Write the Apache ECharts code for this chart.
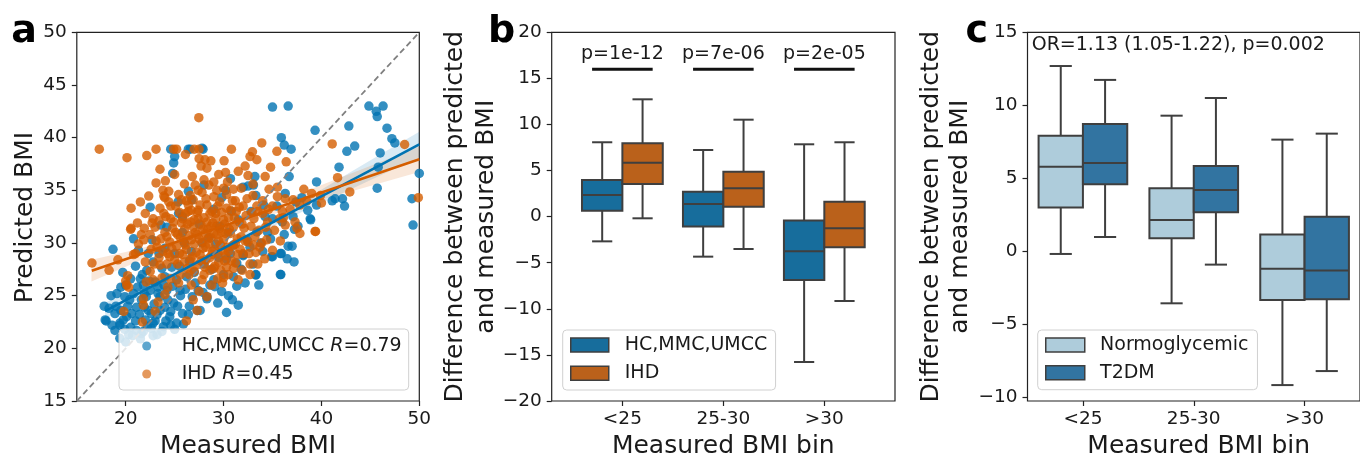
<!DOCTYPE html>
<html><head><meta charset="utf-8">
<script src="https://cdn.jsdelivr.net/npm/echarts@6/dist/echarts.min.js"></script>
<style>html,body{margin:0;padding:0;background:#fff}#c{width:1360px;height:457px}</style>
</head><body><div id="c"></div>
<script>
// ---------- Panel a data (Measured BMI, Predicted BMI) ----------
const hcPoints = [
[35.0,42.9],[36.6,43.0],[44.85,43.0],[45.6,42.5],[46.3,43.0],[45.7,42.0],[39.35,40.7],[42.8,41.1],[46.7,40.9],[47.2,39.9],[47.5,39.5],[35.9,40.0],[36.2,39.3],[36.9,38.9],[42.6,38.7],[43.4,39.2],[46.0,38.55],[41.8,37.2],[45.8,37.2],[50.0,36.6],[39.5,35.8],[36.7,36.3],[45.7,35.2],[49.25,34.2],[49.36,31.7],[41.1,34.0],[41.4,34.2],[42.15,34.2],[42.36,33.5],[38.9,32.2],[38.6,33.1],[37.1,32.5],[37.2,28.2],[35.8,27.0],[35.9,29.0],[36.6,29.7],[37.0,29.7],[35.0,28.7],[33.3,27.0],[31.5,24.1],[30.3,23.4],[31.35,25.9],[37.25,31.3],[33.4,31.05],[32.4,30.3],[32.0,28.8],[34.9,28.7],[35.8,29.0],
[30.7,36.1],[32.0,35.3],[32.5,35.4],[33.05,35.5],[33.2,36.3],[30.2,35.0],[29.8,34.3],[33.3,34.5],[34.1,33.6],[36.3,34.7],[37.4,33.9],[39.5,33.6],[38.0,34.3],[38.85,32.3],[35.45,33.5],[34.25,32.5],[35.0,32.3],[36.0,32.0],[37.6,31.6],[27.8,39.0],[24.6,38.9],[26.4,38.9],[26.6,38.9],[27.9,38.9],[24.9,37.6],[24.8,36.6],[25.0,38.2],[26.4,34.9],[25.35,33.9],[22.5,33.4],[25.4,32.8],[25.8,32.5],[23.6,31.7],[24.2,31.5],[26.75,34.1],[28.0,35.5],[29.0,33.2],[30.8,33.0],[31.5,32.2],[32.8,33.0],[30.5,31.0],[29.6,31.6],[28.5,30.5],[27.5,31.8],[31.0,29.8],[33.8,30.0],[34.5,31.0],[36.2,30.8],
[30.3,28.5],[31.35,28.1],[32.0,28.9],[32.7,29.6],[28.3,24.9],[29.1,25.85],[29.0,26.5],[27.3,23.6],[28.3,24.7],[27.4,25.5],[25.55,25.5],[25.2,26.5],[26.2,26.8],[27.6,23.6],[33.3,26.95],[35.85,27.0],[28.8,27.5],[30.0,27.0],[29.5,28.6],[28.0,28.0],[27.0,27.2],[26.5,28.3],[25.5,27.8],[31.0,26.8],[30.5,25.0],
[18.7,29.4],[19.7,27.2],[20.8,30.4],[21.3,29.3],[21.5,26.6],[22.15,27.4],[18.0,22.6],[18.9,23.3],[19.4,22.2],
[17.9,22.7],[18.9,21.7],[19.75,22.7],[20.6,23.3],[21.1,23.9],[21.6,24.6],[20.8,25.2],[19.9,24.9],[22.0,22.7],[22.8,22.4],[23.2,23.2],[24.0,23.9],[24.5,23.0],[23.5,24.9],[22.5,25.5],[21.8,26.0],[24.2,25.5],[24.9,24.3],[25.2,22.4],[23.85,22.05],[21.1,21.7],[19.4,22.4],[19.4,20.95],[21.8,21.6],[23.2,21.3],[24.6,22.2],[20.3,21.3],[22.3,23.6],[23.0,26.3],[24.0,26.8],[20.0,26.0],[21.0,27.8],[22.8,28.2],[23.7,27.6],[19.0,24.0],[20.5,22.0],[22.6,21.9],[25.8,23.3],[26.5,24.0],[25.0,29.0],[26.0,30.0],[24.0,29.5],[22.3,29.0],[21.9,25.2],[23.3,25.8],[20.2,24.0],
[18.3,23.8],[18.6,22.2],[19.1,25.2],[19.5,23.6],[19.9,21.8],[20.1,23.0],[20.4,24.6],[20.7,21.2],[21.0,22.6],[21.2,25.8],[21.4,23.2],[21.6,21.4],[21.9,23.9],[22.1,24.9],[22.2,22.1],[22.4,26.4],[22.6,23.3],[22.9,24.2],[23.0,22.6],[23.3,25.2],[23.5,23.6],[23.7,21.6],[23.9,26.0],[24.1,22.6],[24.3,24.6],[24.6,23.5],[24.8,25.9],[25.0,21.8],[25.3,24.0],[25.6,25.0],[25.9,22.3],[26.1,25.6],[26.4,23.2],[26.8,24.9],[27.1,26.2],[27.9,25.3],[28.6,26.0],[29.4,24.3],[29.8,25.4],[30.9,24.6],[32.2,26.2],[33.0,28.0],[34.0,29.2],[31.8,27.5],[30.7,29.0],[29.2,29.9],[27.8,30.0],[26.7,29.2],[25.8,31.0],[24.7,27.7],[23.4,29.0],[22.7,30.3],[21.7,27.0],[20.5,26.6],[19.5,25.8],[18.5,25.0],[17.8,24.0],[33.6,26.0],[34.8,30.4],[36.5,28.5],[20.0,20.6],[21.5,20.9],[22.8,21.2]
];
const ihdPoints = [
[17.3,38.9],[20.13,38.1],[22.15,38.3],[23.1,38.9],[24.9,38.9],[25.2,38.9],[27.0,38.9],[27.5,38.9],[26.1,38.4],[27.47,41.9],[27.5,38.0],[27.7,37.3],[28.1,37.9],[28.3,37.1],[28.7,37.8],[30.05,37.8],[30.8,38.9],[32.95,38.65],[32.7,38.2],[33.4,37.9],[33.9,39.5],[35.45,38.7],[36.4,37.7],[34.8,37.2],[41.1,39.4],[48.5,39.35],[41.65,36.2],[42.9,34.85],[49.9,34.3],[39.35,31.1],[40.0,33.8],[39.4,31.1],
[23.1,35.7],[24.05,35.9],[23.8,35.0],[24.4,34.9],[23.9,34.45],[22.35,34.45],[20.55,33.3],[20.55,31.4],[22.8,32.3],[22.7,31.9],[23.9,32.8],[24.1,32.5],[24.6,32.3],[25.7,34.1],[26.6,34.5],[26.9,34.1],[26.4,33.6],[26.7,33.1],[26.1,32.8],[25.7,31.9],[27.0,32.2],[27.4,35.0],[27.4,33.1],[34.25,36.3],[32.5,36.4],[28.0,36.0],[29.0,35.8],[31.0,35.1],[30.0,35.2],[34.65,35.1],[35.5,35.3],[38.2,35.1],[36.3,34.2],[37.1,34.1],[39.0,34.7],[39.9,34.5],[38.5,34.0],[37.8,33.6],
[35.8,30.2],[37.8,30.9],[37.5,31.4],[34.4,30.3],[33.9,30.0],[33.05,29.8],[35.0,29.3],[32.7,28.0],[31.9,27.4],[31.0,27.6],[30.3,27.7],[30.0,26.7],[29.4,26.6],[28.8,26.0],[28.6,27.4],[27.8,26.5],[36.3,31.7],[35.7,32.3],[34.5,32.0],[33.5,33.0],[32.0,33.5],[31.2,34.0],[33.0,34.5],[34.0,34.0],[36.0,33.0],[35.0,33.5],
[16.55,28.1],[18.3,27.4],[20.5,31.3],[20.2,26.9],[20.1,26.0],[20.3,25.8],[21.85,30.3],[21.6,30.8],[19.8,23.5],[20.0,26.4],[21.7,22.5],[21.8,24.7],[21.8,24.1],[23.0,23.5],[23.3,24.4],[24.0,25.1],[24.3,25.8],[26.2,22.6],[26.9,24.6],[27.3,23.6],[28.3,24.9],[19.2,28.4],[20.8,28.9],[21.3,29.9],[22.0,28.2],[22.5,27.3],[22.8,26.5],[23.5,27.9],
[23.2,29.6],[23.6,30.4],[24.0,31.0],[24.3,29.0],[24.5,30.1],[24.8,31.4],[25.0,28.4],[25.2,29.7],[25.3,30.8],[25.5,32.9],[25.8,28.9],[25.9,30.2],[26.0,31.3],[26.2,29.4],[26.3,27.6],[26.5,30.7],[26.6,32.0],[26.8,28.7],[27.0,29.9],[27.1,31.0],[27.2,27.9],[27.3,32.9],[27.5,30.4],[27.6,28.9],[27.7,31.7],[27.9,29.5],[28.0,32.4],[28.1,30.9],[28.2,28.4],[28.3,33.6],[28.4,31.3],[28.5,29.9],[28.6,32.8],[28.7,30.5],[28.8,28.9],[28.9,31.9],[29.0,34.4],[29.1,29.4],[29.2,32.3],[29.3,30.8],[29.4,33.5],[29.5,28.2],[29.6,31.4],[29.7,29.8],[29.8,32.9],[30.0,30.3],[30.1,31.8],[30.2,28.8],[30.3,33.3],[30.4,29.6],[30.5,32.4],[30.7,30.9],[30.8,28.3],[30.9,34.0],[31.0,31.5],[31.2,29.9],[31.3,33.0],[31.4,28.9],[31.6,32.0],[31.8,30.6],[32.0,29.0],[32.1,31.4],[32.3,32.6],[32.5,30.1],[32.8,31.6],[33.1,32.3],[33.3,29.1],[33.6,31.2],[34.0,32.8],[34.2,28.5],[24.6,33.5],[25.4,34.6],[26.0,35.6],[26.8,36.3],[27.8,34.8],[28.5,35.5],[29.5,36.5],[30.4,35.8],[31.5,36.8],[32.2,37.3],[24.2,28.0],[25.6,27.0],[26.7,26.0],[27.5,25.4],[28.0,27.0],[29.0,27.6],[29.9,26.2],[30.5,27.0],[31.5,26.5],[32.7,27.0],[33.5,28.0],[22.5,30.8],[23.0,31.5],[23.5,33.3],[24.4,33.9],[22.0,32.8],[21.5,33.9],[21.0,29.0],[25.0,36.5],[23.5,37.0],
[23.4,28.6],[23.8,29.2],[24.2,30.6],[24.5,28.7],[24.7,29.5],[24.9,32.0],[25.1,31.0],[25.3,28.0],[25.5,29.0],[25.6,30.5],[25.8,32.3],[26.0,28.2],[26.1,29.8],[26.3,31.8],[26.4,33.0],[26.6,28.5],[26.7,30.3],[26.9,31.5],[27.0,27.3],[27.2,29.1],[27.3,30.8],[27.4,32.3],[27.6,33.6],[27.7,28.3],[27.8,30.1],[27.9,31.3],[28.1,27.7],[28.2,29.6],[28.3,32.0],[28.4,30.4],[28.6,28.6],[28.7,31.6],[28.8,33.0],[28.9,29.2],[29.0,30.9],[29.1,27.8],[29.2,32.8],[29.3,31.6],[29.4,29.0],[29.5,30.2],[29.6,33.9],[29.7,27.4],[29.8,31.0],[29.9,29.3],[30.0,32.2],[30.1,28.3],[30.2,30.9],[30.3,34.6],[30.5,29.2],[30.6,31.3],[30.7,33.1],[30.9,29.7],[31.1,32.4],[31.2,28.1],[31.4,30.4],[31.6,33.4],[31.7,29.4],[31.9,31.8],[32.2,30.2],[32.4,34.2],[32.6,29.0],[32.9,32.9],[33.2,30.6],[33.4,33.5],[33.7,29.6],[34.3,31.5],[34.6,33.2],[35.2,31.2],[35.5,34.4],[36.1,32.4],[36.8,33.2],[37.3,32.0],[22.6,29.4],[22.9,28.0],[23.1,30.2],[23.4,32.1],[21.9,31.4],[21.2,31.9],[22.1,26.3],[23.7,26.7],[24.6,26.6],[25.4,26.2],[26.5,27.0],[24.0,34.3],[25.1,33.5],[26.2,34.0],[27.1,35.5],[28.2,34.2],[29.3,35.0],[30.2,36.7],[31.8,35.2],[33.0,35.6]
];
const hcFit = [[17.9,23.54],[50,39.37]];
const ihdFit = [[16.53,27.37],[50,37.94]];
const hcBand = [[17.9,22.75,24.35],[22,25.05,26.05],[26,27.2,27.85],[30,29.2,29.8],[34,31.1,31.85],[38,32.95,33.95],[42,34.65,36.2],[46,36.4,38.4],[50,38.15,40.55]];
const ihdBand = [[16.5,26.35,28.4],[20,27.75,29.15],[24,29.35,30.1],[28,30.7,31.3],[32,31.9,32.6],[36,33.0,34.0],[40,34.1,35.5],[44,35.15,36.95],[50,36.75,39.15]];
const identityLine = [[15,15],[50,50]];
const aXTicks = [20,30,40,50];
const aLegend = ['HC,MMC,UMCC R=0.79','IHD R=0.45'];

// ---------- Panel b data: [low whisker, Q1, median, Q3, high whisker] ----------
const binCats = ['<25','25-30','>30'];
const bHC  = [[-2.68,0.65,2.35,3.98,8.07],[-4.34,-1.08,1.37,2.71,7.23],[-15.77,-6.87,-3.76,-0.43,7.85]];
const bIHD = [[-0.18,3.54,5.86,7.96,12.73],[-3.51,1.08,3.07,4.88,10.52],[-9.15,-3.33,-1.27,1.63,8.07]];
const bPvals = ['p=1e-12','p=7e-06','p=2e-05'];
const bSigY = 16, bTextY = 17.62;

// ---------- Panel c data ----------
const cNormo = [[-0.18,3.01,5.80,7.92,12.69],[-3.56,0.89,2.15,4.32,9.29],[-9.16,-3.33,-1.19,1.16,7.65]];
const cT2DM  = [[0.98,4.59,6.05,8.72,11.74],[-0.91,2.67,4.20,5.84,10.50],[-8.20,-3.29,-1.32,2.37,8.06]];
const cYTicks = [-10,-5,0,5,10,15];
const cNote = 'OR=1.13 (1.05-1.22), p=0.002';

const FONT = 'DejaVu Sans';
const INK = '#1a1a1a';
const EDGE = '#3f3f3f';
const C_HC = '#0173b2', C_IHD = '#d55e00';
const F_HC = '#176d9c', F_IHD = '#ba611b';
const F_NORMO = '#aeccdb', F_T2DM = '#3274a1';

const chart = echarts.init(document.getElementById('c'), null, {renderer:'canvas'});
const minusFmt = v => (v < 0 ? '\u2212' : '') + Math.abs(v);

function boxRender(offset, fill){
  return function(params, api){
    const c = api.value(0) + offset;
    const lo = api.value(1), q1 = api.value(2), md = api.value(3), q3 = api.value(4), hi = api.value(5);
    const xl = api.coord([c - 0.2, md])[0], xr = api.coord([c + 0.2, md])[0];
    const xc = api.coord([c, md])[0];
    const cl = api.coord([c - 0.1, md])[0], cr = api.coord([c + 0.1, md])[0];
    const yLo = api.coord([c, lo])[1], yQ1 = api.coord([c, q1])[1], yMd = api.coord([c, md])[1], yQ3 = api.coord([c, q3])[1], yHi = api.coord([c, hi])[1];
    const ls = {stroke: EDGE, lineWidth: 2};
    return {type:'group', children:[
      {type:'line', shape:{x1:xc,y1:yLo,x2:xc,y2:yQ1}, style:ls},
      {type:'line', shape:{x1:xc,y1:yQ3,x2:xc,y2:yHi}, style:ls},
      {type:'line', shape:{x1:cl,y1:yLo,x2:cr,y2:yLo}, style:ls},
      {type:'line', shape:{x1:cl,y1:yHi,x2:cr,y2:yHi}, style:ls},
      {type:'rect', shape:{x:xl,y:yQ3,width:xr-xl,height:yQ1-yQ3}, style:{fill:fill, stroke:EDGE, lineWidth:2}},
      {type:'line', shape:{x1:xl,y1:yMd,x2:xr,y2:yMd}, style:ls}
    ]};
  };
}
function bandRender(band, color){
  return function(params, api){
    if (params.dataIndex !== 0) return {type:'group', children:[]};
    const pts = [];
    band.forEach(b => pts.push(api.coord([b[0], b[2]])));
    for (let i = band.length - 1; i >= 0; i--) pts.push(api.coord([band[i][0], band[i][1]]));
    return {type:'polygon', shape:{points:pts}, style:{fill:color}};
  };
}
const boxData = arr => arr.map((s,i) => [i].concat(s));

function tickCfg(extra){ return Object.assign({show:true, length:5, lineStyle:{color:'#222', width:1.2}}, extra || {}); }
function labelCfg(extra){ return Object.assign({color:INK, fontFamily:FONT, fontSize:18.5}, extra || {}); }
function baseAxis(extra){
  return Object.assign({axisLine:{show:false, onZero:false}, splitLine:{show:false}, axisTick:tickCfg(), axisLabel:labelCfg()}, extra);
}
function xCat(grid, min, max){
  return baseAxis({type:'value', gridIndex:grid, min:min, max:max,
    axisTick:tickCfg({customValues:[0,1,2]}),
    axisLabel:labelCfg({margin:9, customValues:[0,1,2], formatter:v => binCats[Math.round(v)] || ''})});
}
const gridStyle = {show:true, borderColor:'#222', borderWidth:1.2, backgroundColor:'transparent'};

const option = {
  animation:false,
  grid:[
    Object.assign({left:76.8, top:32.3, width:342.5, height:368.7}, gridStyle),
    Object.assign({left:551.7, top:32.3, width:343.3, height:368.7}, gridStyle),
    Object.assign({left:1027.5, top:32.3, width:343.5, height:368.7}, gridStyle)
  ],
  xAxis:[
    baseAxis({type:'value', gridIndex:0, min:15, max:50,
      axisTick:tickCfg({customValues:aXTicks}),
      axisLabel:labelCfg({margin:9, customValues:aXTicks})}),
    xCat(1, -0.7, 2.7),
    xCat(2, -0.5, 2.5)
  ],
  yAxis:[
    baseAxis({type:'value', gridIndex:0, min:15, max:50, interval:5, axisLabel:labelCfg({margin:10})}),
    baseAxis({type:'value', gridIndex:1, min:-20, max:20, interval:5, axisLabel:labelCfg({margin:10, formatter:minusFmt})}),
    baseAxis({type:'value', gridIndex:2, min:-10.25, max:15,
      axisTick:tickCfg({customValues:cYTicks}),
      axisLabel:labelCfg({margin:10, customValues:cYTicks, formatter:minusFmt})})
  ],
  legend:[
    {orient:'vertical', left:119, top:329, padding:[7,7,6,23.2], itemWidth:9, itemHeight:9, itemGap:8,
     backgroundColor:'rgba(255,255,255,0.8)', borderColor:'#d0d0d0', borderWidth:1, borderRadius:4, selectedMode:false,
     data:[{name:aLegend[0], icon:'circle', itemStyle:{color:'rgba(1,115,178,0.8)'}},{name:aLegend[1], icon:'circle', itemStyle:{color:'rgba(213,94,0,0.8)'}}],
     formatter: n => { const p = n.split(' R='); return '{a|' + p[0] + ' }{i|R}{b|=' + p[1] + '}'; },
     textStyle:{color:INK, fontFamily:FONT, fontSize:19, lineHeight:20,
       rich:{a:{fontFamily:FONT, fontSize:19, color:INK, padding:[0,0,0,25.5]}, i:{fontFamily:FONT, fontSize:19, fontStyle:'italic', color:INK}, b:{fontFamily:FONT, fontSize:19, color:INK}}}},
    {orient:'vertical', left:562.7, top:330, padding:[5,8.3,6.7,7.3], itemWidth:38, itemHeight:14, itemGap:8.3,
     backgroundColor:'rgba(255,255,255,0.8)', borderColor:'#d0d0d0', borderWidth:1, borderRadius:4, selectedMode:false,
     data:[{name:'HC,MMC,UMCC', icon:'rect', itemStyle:{color:F_HC, borderColor:EDGE, borderWidth:1.5}},{name:'IHD', icon:'rect', itemStyle:{color:F_IHD, borderColor:EDGE, borderWidth:1.5}}],
     textStyle:{color:INK, fontFamily:FONT, fontSize:19, lineHeight:20, padding:[0,0,0,11]}},
    {orient:'vertical', left:1037.7, top:330, padding:[5,9,7,7.3], itemWidth:39, itemHeight:14, itemGap:7.7,
     backgroundColor:'rgba(255,255,255,0.8)', borderColor:'#d0d0d0', borderWidth:1, borderRadius:4, selectedMode:false,
     data:[{name:'Normoglycemic', icon:'rect', itemStyle:{color:F_NORMO, borderColor:EDGE, borderWidth:1.5}},{name:'T2DM', icon:'rect', itemStyle:{color:F_T2DM, borderColor:EDGE, borderWidth:1.5}}],
     textStyle:{color:INK, fontFamily:FONT, fontSize:19, lineHeight:20, padding:[0,0,0,10.3]}}
  ],
  series:[
    {name:aLegend[0], type:'scatter', xAxisIndex:0, yAxisIndex:0, data:hcPoints, symbolSize:9.5, itemStyle:{color:C_HC, opacity:0.8}},
    {type:'custom', xAxisIndex:0, yAxisIndex:0, data:hcBand, encode:{x:0, y:[1,2]}, renderItem:bandRender(hcBand,'rgba(1,115,178,0.15)'), silent:true},
    {name:aLegend[1], type:'scatter', xAxisIndex:0, yAxisIndex:0, data:ihdPoints, symbolSize:9.5, itemStyle:{color:C_IHD, opacity:0.8}},
    {type:'custom', xAxisIndex:0, yAxisIndex:0, data:ihdBand, encode:{x:0, y:[1,2]}, renderItem:bandRender(ihdBand,'rgba(213,94,0,0.15)'), silent:true},
    {type:'line', xAxisIndex:0, yAxisIndex:0, data:hcFit, showSymbol:false, lineStyle:{color:C_HC, width:2.6}},
    {type:'line', xAxisIndex:0, yAxisIndex:0, data:ihdFit, showSymbol:false, lineStyle:{color:C_IHD, width:2.6}},
    {type:'line', xAxisIndex:0, yAxisIndex:0, data:identityLine, showSymbol:false, lineStyle:{color:'#808080', width:1.8, type:[6,3.5]}},

    {name:'HC,MMC,UMCC', type:'custom', xAxisIndex:1, yAxisIndex:1, data:boxData(bHC), encode:{x:0, y:[1,2,3,4,5]}, renderItem:boxRender(-0.2, F_HC), itemStyle:{color:F_HC}},
    {name:'IHD', type:'custom', xAxisIndex:1, yAxisIndex:1, data:boxData(bIHD), encode:{x:0, y:[1,2,3,4,5]}, renderItem:boxRender(0.2, F_IHD), itemStyle:{color:F_IHD}},
    {type:'custom', xAxisIndex:1, yAxisIndex:1, data:bPvals.map((p,i) => [i, bSigY]), encode:{x:0, y:1},
     renderItem:function(params, api){
       const i = api.value(0);
       const a = api.coord([i - 0.3, bSigY]), b = api.coord([i + 0.3, bSigY]), t = api.coord([i, bTextY]);
       return {type:'group', children:[
         {type:'line', shape:{x1:a[0],y1:a[1],x2:b[0],y2:b[1]}, style:{stroke:'#111', lineWidth:3}},
         {type:'text', x:t[0], y:t[1], style:{text:bPvals[i], fontFamily:FONT, fontSize:19, fill:INK, align:'center', verticalAlign:'middle'}}
       ]};
     }},

    {name:'Normoglycemic', type:'custom', xAxisIndex:2, yAxisIndex:2, data:boxData(cNormo), encode:{x:0, y:[1,2,3,4,5]}, renderItem:boxRender(-0.2, F_NORMO), itemStyle:{color:F_NORMO}},
    {name:'T2DM', type:'custom', xAxisIndex:2, yAxisIndex:2, data:boxData(cT2DM), encode:{x:0, y:[1,2,3,4,5]}, renderItem:boxRender(0.2, F_T2DM), itemStyle:{color:F_T2DM}}
  ],
  graphic:[
    {type:'text', x:24, y:31.9, style:{text:'a', fontFamily:FONT, fontWeight:'bold', fontSize:38, fill:'#000', align:'center', verticalAlign:'middle'}},
    {type:'text', x:501.7, y:31.9, style:{text:'b', fontFamily:FONT, fontWeight:'bold', fontSize:38, fill:'#000', align:'center', verticalAlign:'middle'}},
    {type:'text', x:976.7, y:31.9, style:{text:'c', fontFamily:FONT, fontWeight:'bold', fontSize:38, fill:'#000', align:'center', verticalAlign:'middle'}},
    {type:'text', x:25, y:217.5, rotation:Math.PI/2, style:{text:'Predicted BMI', fontFamily:FONT, fontSize:25, fill:INK, align:'center', verticalAlign:'middle'}},
    {type:'text', x:248, y:446, style:{text:'Measured BMI', fontFamily:FONT, fontSize:25, fill:INK, align:'center', verticalAlign:'middle'}},
    {type:'text', x:470.7, y:216.7, rotation:Math.PI/2, style:{text:'Difference between predicted\nand measured BMI', fontFamily:FONT, fontSize:25, lineHeight:31, fill:INK, align:'center', verticalAlign:'middle'}},
    {type:'text', x:723.3, y:446, style:{text:'Measured BMI bin', fontFamily:FONT, fontSize:25, fill:INK, align:'center', verticalAlign:'middle'}},
    {type:'text', x:945.7, y:216.7, rotation:Math.PI/2, style:{text:'Difference between predicted\nand measured BMI', fontFamily:FONT, fontSize:25, lineHeight:29, fill:INK, align:'center', verticalAlign:'middle'}},
    {type:'text', x:1198.7, y:446, style:{text:'Measured BMI bin', fontFamily:FONT, fontSize:25, fill:INK, align:'center', verticalAlign:'middle'}},
    {type:'text', x:1031.7, y:45, style:{text:cNote, fontFamily:FONT, fontSize:19, fill:INK, align:'left', verticalAlign:'middle'}}
  ]
};
chart.setOption(option);
</script></body></html>
